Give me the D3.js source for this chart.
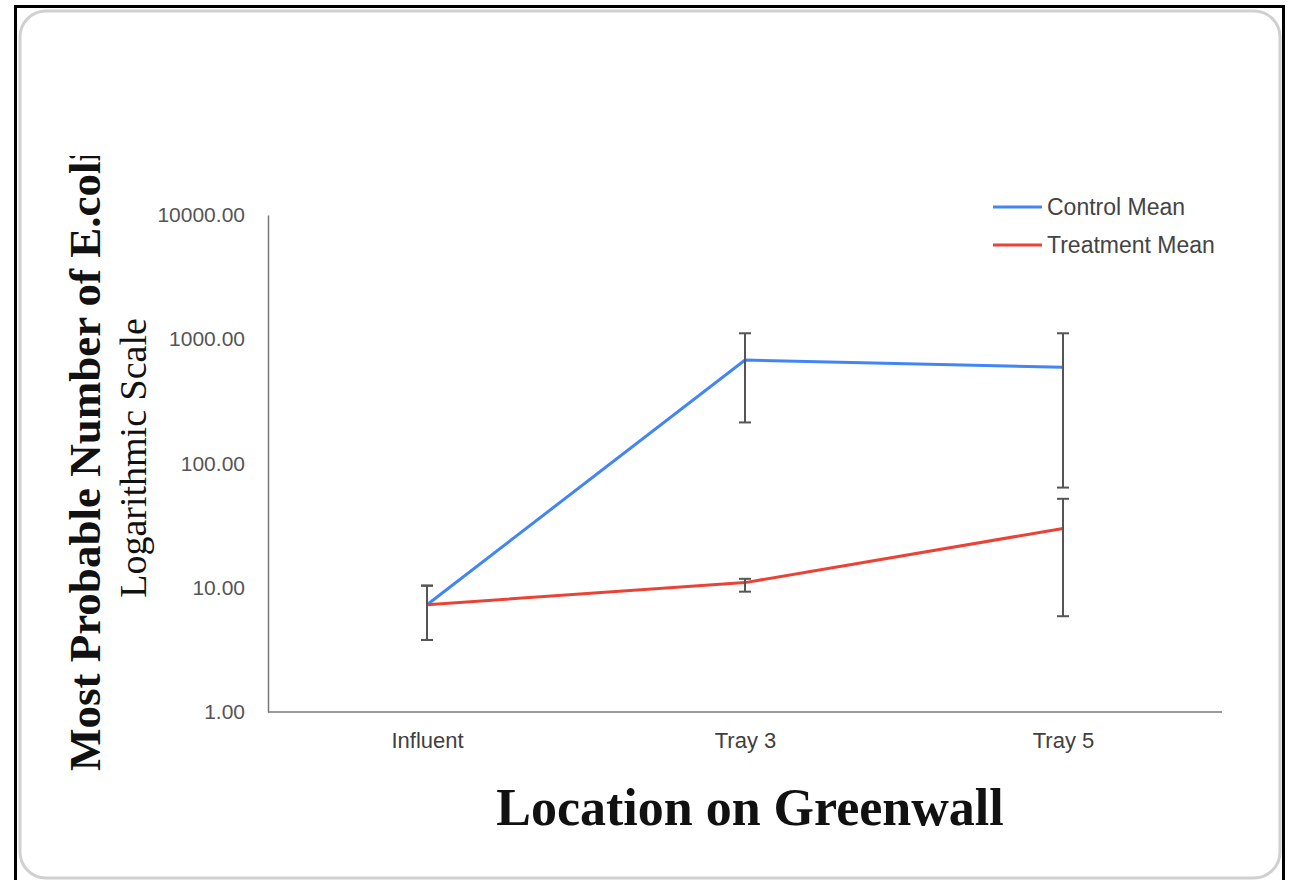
<!DOCTYPE html>
<html><head><meta charset="utf-8">
<script src="https://cdn.jsdelivr.net/npm/d3@7"></script>
<style>body{margin:0;background:#fff}svg{display:block}</style>
</head><body>
<script>
const categories = ["Influent", "Tray 3", "Tray 5"];
const seriesNames = ["Control Mean", "Treatment Mean"];
const controlMean = [7.3, 680, 595];
const controlLow = [3.8, 214, 64];
const controlHigh = [10.4, 1117, 1117];
const treatmentMean = [7.3, 11, 30];
const treatmentLow = [3.8, 9.3, 5.9];
const treatmentHigh = [10.4, 11.8, 52];
const yTicks = [1, 10, 100, 1000, 10000];
const colors = ["#4285F4", "#EA4335"];

const W = 1294, H = 880;
const svg = d3.select("body").append("svg").attr("width", W).attr("height", H);

// frames
svg.append("rect").attr("x", 20).attr("y", 11).attr("width", 1260).attr("height", 867)
  .attr("rx", 26).attr("fill", "#fff").attr("stroke", "#d0d0d0").attr("stroke-width", 3);
svg.append("path").attr("d", "M15.5,890 V6.5 H1283.5 V890").attr("fill", "none")
  .attr("stroke", "#000").attr("stroke-width", 3);

const L = 268, R = 1222, T = 215, B = 712;
const x = d3.scalePoint().domain(categories).range([L, R]).padding(0.5);
const y = d3.scaleLog().domain([1, 10000]).range([B, T]);

const sans = "Liberation Sans, Arial, sans-serif";
const serif = "Liberation Serif, Times New Roman, serif";

// axes
const yAxis = svg.append("g").attr("transform", `translate(${L},0)`)
  .call(d3.axisLeft(y).tickValues(yTicks).tickFormat(d3.format(".2f")).tickSize(0).tickPadding(23));
yAxis.select(".domain").attr("stroke", "#777").attr("stroke-width", 1.5);
yAxis.selectAll("text").attr("font-family", sans)
  .attr("font-size", 21).attr("fill", "#555");

const xAxis = svg.append("g").attr("transform", `translate(0,${B})`)
  .call(d3.axisBottom(x).tickSize(0).tickPadding(20));
xAxis.select(".domain").attr("stroke", "#777").attr("stroke-width", 1.5)
  .attr("d", `M${L},0H${R}`);
xAxis.selectAll("text").attr("font-family", sans)
  .attr("font-size", 22).attr("fill", "#404040");

const series = [
  {name: seriesNames[0], mean: controlMean, low: controlLow, high: controlHigh, color: colors[0]},
  {name: seriesNames[1], mean: treatmentMean, low: treatmentLow, high: treatmentHigh, color: colors[1]}
];

const line = d3.line().x((d, i) => x(categories[i])).y(d => y(d));
series.forEach(s => {
  svg.append("path").datum(s.mean).attr("d", line).attr("fill", "none")
    .attr("stroke", s.color).attr("stroke-width", 3);
});

// error bars
series.forEach(s => {
  categories.forEach((c, i) => {
    const cx = x(c), y1 = y(s.low[i]), y2 = y(s.high[i]);
    const g = svg.append("g").attr("stroke", "#555").attr("stroke-width", 2);
    g.append("line").attr("x1", cx).attr("x2", cx).attr("y1", y1).attr("y2", y2);
    g.append("line").attr("x1", cx - 6).attr("x2", cx + 6).attr("y1", y1).attr("y2", y1);
    g.append("line").attr("x1", cx - 6).attr("x2", cx + 6).attr("y1", y2).attr("y2", y2);
  });
});

// legend
series.forEach((s, i) => {
  const ly = 207 + i * 38;
  svg.append("line").attr("x1", 993).attr("x2", 1042).attr("y1", ly).attr("y2", ly)
    .attr("stroke", s.color).attr("stroke-width", 3);
  svg.append("text").attr("x", 1047).attr("y", ly + 8).text(s.name)
    .attr("font-family", sans).attr("font-size", 23).attr("fill", "#444");
});

// titles
svg.append("clipPath").attr("id", "yclip").append("rect")
  .attr("x", 0).attr("y", 156).attr("width", 400).attr("height", 700);
const yt = svg.append("g").attr("clip-path", "url(#yclip)");
yt.append("text").attr("transform", "translate(100,771) rotate(-90)")
  .attr("font-family", serif).attr("font-weight", "bold")
  .attr("font-size", 45).attr("fill", "#111").text("Most Probable Number of E.coli");
svg.append("text").attr("transform", "translate(146,458) rotate(-90)").attr("text-anchor", "middle")
  .attr("font-family", serif)
  .attr("font-size", 38).attr("fill", "#111").text("Logarithmic Scale");
svg.append("text").attr("x", 750).attr("y", 825).attr("text-anchor", "middle")
  .attr("font-family", serif).attr("font-weight", "bold")
  .attr("font-size", 52).attr("fill", "#111").text("Location on Greenwall");
</script>
</body></html>
